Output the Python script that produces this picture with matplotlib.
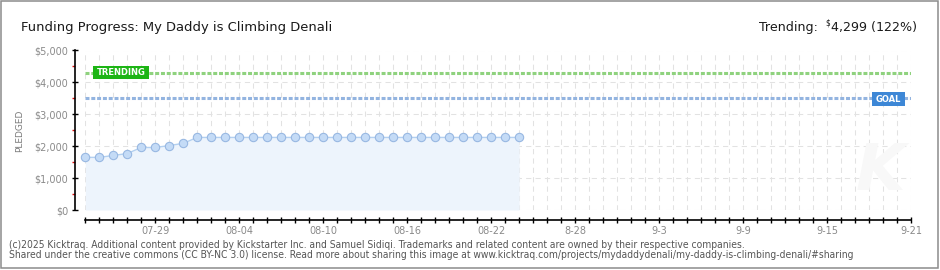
import datetime as dt
import matplotlib
matplotlib.use("Agg")
import matplotlib.pyplot as plt
import matplotlib.dates as mdates
from matplotlib.patches import Rectangle
from matplotlib.ticker import FixedLocator, MultipleLocator, NullFormatter, FuncFormatter

W, H = 940, 270

# ---------------- data ----------------
title = "Funding Progress: My Daddy is Climbing Denali"
start_date = dt.date(2025, 7, 24)
end_date = dt.date(2025, 9, 21)
pledged = [1650, 1650, 1710, 1770, 1960, 1960, 2020, 2090,
           2275, 2275, 2275, 2275, 2275, 2275, 2275, 2275,
           2275, 2275, 2275, 2275, 2275, 2275, 2275, 2275,
           2275, 2275, 2275, 2275, 2275, 2275, 2275, 2275]
dates = [start_date + dt.timedelta(days=i) for i in range(len(pledged))]
trending = 4299
trending_pct = 122
goal = 3500
tick_dates = [dt.date(2025, 7, 29), dt.date(2025, 8, 4), dt.date(2025, 8, 10),
              dt.date(2025, 8, 16), dt.date(2025, 8, 22), dt.date(2025, 8, 28),
              dt.date(2025, 9, 3), dt.date(2025, 9, 9), dt.date(2025, 9, 15),
              dt.date(2025, 9, 21)]
tick_labels = ["07-29", "08-04", "08-10", "08-16", "08-22",
               "8-28", "9-3", "9-9", "9-15", "9-21"]
footer1 = ("(c)2025 Kicktraq. Additional content provided by Kickstarter Inc. and Samuel Sidiqi. "
           "Trademarks and related content are owned by their respective companies.")
footer2 = ("Shared under the creative commons (CC BY-NC 3.0) license. Read more about sharing this "
           "image at www.kicktraq.com/projects/mydaddydenali/my-daddy-is-climbing-denali/#sharing")

# ---------------- figure ----------------
fig = plt.figure(figsize=(W / 100, H / 100), dpi=100)
fig.patch.set_facecolor("white")


def fx(px):
    return px / W


def fy(py):
    return 1 - py / H


ax = fig.add_axes([fx(85.3), fy(210), fx(911) - fx(85.3), fy(50.5) - fy(210)])
ax.set_facecolor("white")

xd = mdates.date2num(dates)
ax.set_xlim(mdates.date2num(start_date), mdates.date2num(end_date))
ax.set_ylim(0, 5000)

# grid
ax.xaxis.set_major_locator(FixedLocator(mdates.date2num(tick_dates)))
ax.xaxis.set_minor_locator(MultipleLocator(1))
ax.set_xticklabels(tick_labels)
ax.yaxis.set_major_locator(MultipleLocator(1000))
ax.yaxis.set_minor_locator(MultipleLocator(500))
ax.yaxis.set_major_formatter(FuncFormatter(lambda v, p: "$" + format(int(v), ",")))
ax.yaxis.set_minor_formatter(NullFormatter())

ax.grid(which="both", axis="x", color="#e2e2e2", lw=0.75, ls=(0, (5, 4)), zorder=0)
ax.grid(which="major", axis="y", color="#e2e2e2", lw=0.75, ls=(0, (5, 4)), zorder=0)
ax.set_axisbelow(True)

for s in ("top", "right"):
    ax.spines[s].set_visible(False)
ax.spines["left"].set_position(("outward", 7.2))
ax.spines["bottom"].set_position(("outward", 7.2))
ax.spines["left"].set_linewidth(1.2)
ax.spines["bottom"].set_linewidth(1.2)

ax.tick_params(axis="x", which="both", direction="inout", length=4, width=1.0,
               color="black", labelsize=7, labelcolor="#8a8a8a", pad=2)
ax.tick_params(axis="y", which="major", direction="inout", length=4, width=1.0,
               color="black", labelsize=7, labelcolor="#8a8a8a", pad=3)
ax.tick_params(axis="y", which="minor", direction="out", length=2.2, width=1.0,
               color="#e01010")

# area + line
ax.fill_between(xd, pledged, 0, color="#edf4fc", lw=0, zorder=1)
ax.plot(xd, pledged, color="#b3d0f0", lw=1, marker="o", ms=6,
        mfc="#c4dbf6", mec="#98b8e2", mew=0.8, clip_on=False, zorder=4)

# trend / goal lines
ax.axhline(trending, color="#8fd27e", lw=2.2, ls=(0, (1.3, 0.6)), zorder=3)
ax.axhline(goal, color="#93b4e0", lw=2.2, ls=(0, (1.3, 0.6)), zorder=3)

# watermark
fig.text(fx(880), fy(172), "K", fontsize=46, fontstyle="italic", fontweight="bold",
         color="#f8f8f8", ha="center", va="center", zorder=0.5)

# badges
def badge(x0, y0, x1, y1, color, label):
    fig.add_artist(Rectangle((fx(x0), fy(y1)), fx(x1) - fx(x0), fy(y0) - fy(y1),
                             transform=fig.transFigure, facecolor=color,
                             edgecolor="none", zorder=6))
    fig.text(fx((x0 + x1) / 2), fy((y0 + y1) / 2 + 0.3), label, color="white",
             fontsize=6, fontweight="bold", ha="center", va="center", zorder=7)

badge(93.3, 66, 149, 79.3, "#1db515", "TRENDING")
badge(871.7, 92.3, 905, 105.7, "#3d87d6", "GOAL")

# y label
fig.text(fx(20), fy(131), "PLEDGED", rotation=90, fontsize=6.5, color="#7a7a7a",
         ha="center", va="center")

# texts
fam = ["Liberation Sans Narrow", "DejaVu Sans"]
renderer = fig.canvas.get_renderer()


def fit(t, target):
    bb = t.get_window_extent(renderer=renderer)
    t.set_fontsize(t.get_fontsize() * target / bb.width)


t_title = fig.text(fx(20.7), fy(30.7), title, fontsize=14, family=fam,
                   color="#1a1a1a", ha="left", va="baseline")
fit(t_title, 311)

t_val = fig.text(fx(916.7), fy(30.7), f"4,299 ({trending_pct}%)", fontsize=14,
                 family=fam, color="#1a1a1a", ha="right", va="baseline")
fit(t_val, 86)
fs = t_val.get_fontsize()
fig.text(fx(830), fy(25.5), "$", fontsize=fs * 0.6, family=fam, color="#1a1a1a",
         ha="right", va="baseline")
t_tr = fig.text(fx(818.3), fy(30.7), "Trending:", fontsize=fs, family=fam,
                color="#1a1a1a", ha="right", va="baseline")

t_f1 = fig.text(fx(9), fy(247.5), footer1, fontsize=7, family=["DejaVu Sans"],
                fontstretch="condensed", color="#555555", ha="left", va="baseline")
fit(t_f1, 736)
t_f2 = fig.text(fx(9), fy(258.5), footer2, fontsize=7, family=["DejaVu Sans"],
                fontstretch="condensed", color="#555555", ha="left", va="baseline")
fit(t_f2, 845)

# frame
fig.add_artist(Rectangle((fx(0.75), fy(267.5)), fx(936.75), fy(0.75) - fy(267.5),
                         transform=fig.transFigure, fill=False,
                         edgecolor="#8c8c8c", lw=1.1, zorder=10))

fig.savefig("out.png", dpi=100, facecolor="white")
